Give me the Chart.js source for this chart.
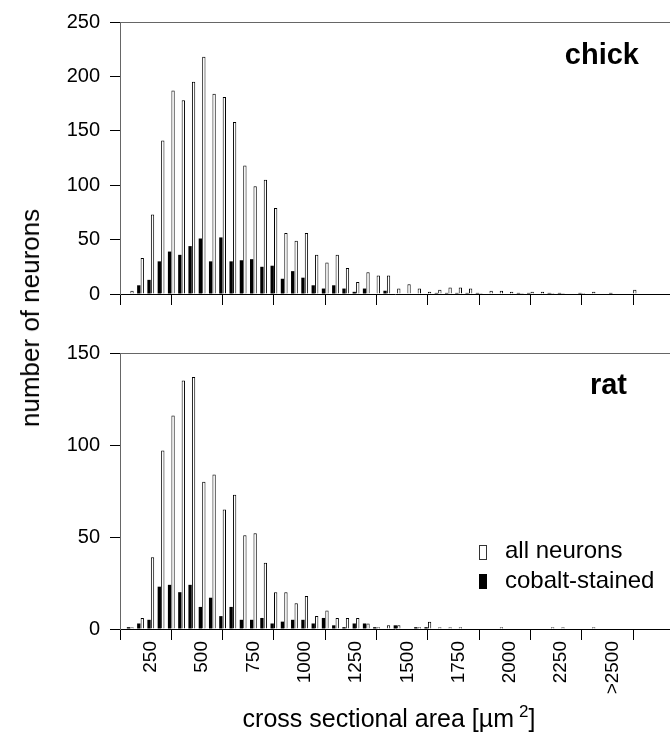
<!DOCTYPE html>
<html>
<head>
<meta charset="utf-8">
<script src="https://cdn.jsdelivr.net/npm/chart.js@4.4.1/dist/chart.umd.min.js"></script>
<style>
  body { margin: 0; background: #fff; font-family: "Liberation Sans", Arial, sans-serif; }
  #wrap { position: relative; width: 670px; height: 734px; overflow: hidden; }
  canvas { position: absolute; left: 0; }
  .txt { position: absolute; white-space: nowrap; line-height: 1; color: #000; }
  .box { position: absolute; width: 6px; height: 13px; border: 1px solid #333; }
</style>
</head>
<body>
<div id="wrap">
  <canvas id="chick" width="670" height="320" style="top:0"></canvas>
  <canvas id="rat" width="670" height="404" style="top:330px"></canvas>

  <div class="txt" style="right:31px; top:40px; font-size:29px; font-weight:bold">chick</div>
  <div class="txt" style="right:43px; top:370px; font-size:29px; font-weight:bold">rat</div>

  <div class="box" style="left:479px; top:545px; background:#fff"></div>
  <div class="txt" style="left:505px; top:538px; font-size:24px">all neurons</div>
  <div class="box" style="left:479px; top:574px; background:#000; border-color:#000"></div>
  <div class="txt" style="left:505px; top:568px; font-size:24px">cobalt-stained</div>

  <div class="txt" style="left:30px; top:318px; font-size:26px; transform:translate(-50%,-50%) rotate(-90deg)">number of neurons</div>
  <div class="txt" style="left:389px; top:706px; font-size:25px; transform:translateX(-50%)">cross sectional area [µm<span style="font-size:17px; position:relative; top:-10px; margin-left:5px">2</span>]</div>
</div>

<script>
// bin number along the x axis (50 µm² bins)
var binIndex = [1,2,3,4,5,6,7,8,9,10,11,12,13,14,15,16,17,18,19,20,21,22,23,24,25,
                26,27,28,29,30,31,32,33,34,35,36,37,38,39,40,41,42,43,44,45,46,47,48,49,50]

// chick
var chickAll    = [3,33,73,141,187,178,195,218,184,181,158,118,99,105,79,56,49,56,36,29,36,24,11,20,17,
                   17,5,9,5,2,4,6,6,5,1,3,3,2,1,2,2,1,1,0,1,2,0,0,0,4]
var chickCobalt = [0,8,13,30,39,36,44,51,30,52,30,31,32,25,26,14,21,15,8,5,8,5,2,5,0,
                   3,0,0,0,0,1,1,1,1,1,0,0,0,1,1,0,1,1,0,1,0,0,1,0,0]

// rat
var ratAll      = [1,6,39,97,116,135,137,80,84,65,73,51,52,36,20,20,14,18,7,10,6,6,6,3,1,
                   2,2,0,1,4,1,1,1,0,0,0,1,0,0,0,0,1,1,0,0,1,0,0,0,0]
var ratCobalt   = [1,3,5,23,24,20,24,12,17,7,12,5,5,6,3,4,5,5,3,6,2,1,3,3,1,
                   0,2,0,1,1,0,0,0,0,0,0,0,0,0,0,0,0,0,0,0,0,0,0,0,0]

// x axis: tick marks every 5 bins, labels in between
var tickMarks  = [0,5,10,15,20,25,30,35,40,45,50]
var labelAt    = [3,8,13,18,23,28,33,38,43,48]
var tickLabels = ['250','500','750','1000','1250','1500','1750','2000','2250','>2500']

Chart.defaults.font.family = '"Liberation Sans", Arial, sans-serif'
Chart.defaults.color = '#000'

function points(vals) {
    var out = []
    binIndex.forEach(function (b, i) {
        if (vals[i] > 0) out.push({x: b, y: vals[i]})
    })
    return out
}

// gray line along the top of the plot
var topLine = {
    id: 'topLine',
    afterDraw: function (c) {
        var a = c.chartArea, g = c.ctx
        g.save()
        g.strokeStyle = '#666'
        g.lineWidth = 1
        g.beginPath()
        g.moveTo(a.left, a.top + 0.5)
        g.lineTo(a.right, a.top + 0.5)
        g.stroke()
        g.restore()
    }
}

function panel(id, allVals, cobaltVals, yMax, showLabels, padTop, axisH) {
    return new Chart(document.getElementById(id), {
        type: 'bar',
        data: {
            datasets: [
                { label: 'cobalt-stained', data: points(cobaltVals), backgroundColor: '#000', borderWidth: 0 },
                { label: 'all neurons', data: points(allVals), backgroundColor: '#fff', borderColor: '#000', borderWidth: 1 }
            ]
        },
        options: {
            responsive: false,
            animation: false,
            layout: { padding: { top: padTop, right: 0, bottom: 0, left: 0 } },
            datasets: { bar: { categoryPercentage: 0.68, barPercentage: 0.95 } },
            plugins: { legend: { display: false }, tooltip: { enabled: false } },
            scales: {
                x: {
                    type: 'linear',
                    min: 0,
                    max: 53.6,
                    offset: false,
                    afterBuildTicks: function (s) {
                        var t = tickMarks.concat(showLabels ? labelAt : [])
                        t.sort(function (a, b) { return a - b })
                        s.ticks = t.map(function (v) { return { value: v } })
                    },
                    afterFit: function (s) { s.height = axisH },
                    ticks: {
                        autoSkip: false,
                        minRotation: 90,
                        maxRotation: 90,
                        padding: 1,
                        font: { size: 19 },
                        callback: function (v) {
                            var i = labelAt.indexOf(v)
                            return (showLabels && i >= 0) ? tickLabels[i] : ''
                        }
                    },
                    grid: {
                        drawOnChartArea: false,
                        tickLength: 11,
                        offset: false,
                        color: function (ctx) {
                            return (ctx.tick && ctx.tick.value % 5 === 0) ? '#000' : 'rgba(0,0,0,0)'
                        }
                    },
                    border: { color: '#000', width: 1 }
                },
                y: {
                    min: 0,
                    max: yMax,
                    afterFit: function (s) { s.width = 120 },
                    ticks: { stepSize: 50, padding: 10, font: { size: 20 } },
                    grid: { drawOnChartArea: false, tickLength: 10, color: '#000' },
                    border: { color: '#666', width: 1 }
                }
            }
        },
        plugins: [topLine]
    })
}

panel('chick', chickAll, chickCobalt, 250, false, 17, 26)
panel('rat', ratAll, ratCobalt, 150, true, 23, 105)
</script>
</body>
</html>
